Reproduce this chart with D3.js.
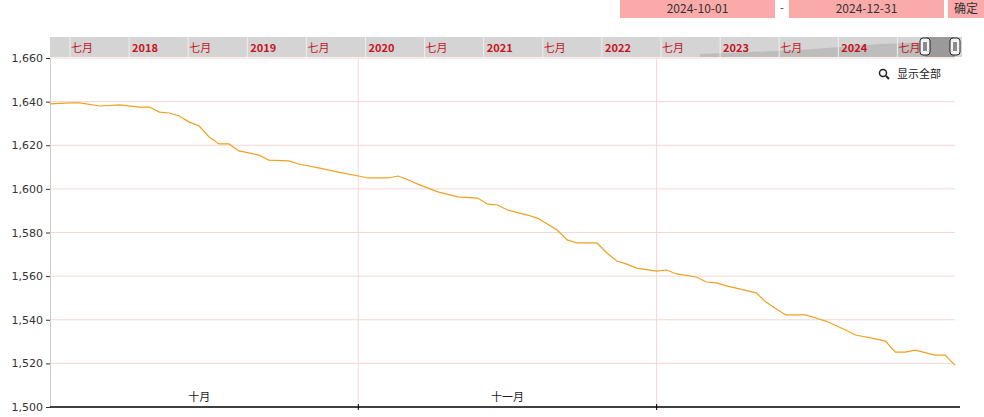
<!DOCTYPE html>
<html><head><meta charset="utf-8">
<script src="https://cdn.jsdelivr.net/npm/d3@7"></script>
<style>body{margin:0;background:#fff;font-family:"Noto Sans CJK SC","DejaVu Sans",sans-serif}</style>
</head><body><div id="chart"></div>
<script>
// price series
const dates = ['2024-10-01','2024-10-03','2024-10-04','2024-10-06','2024-10-08','2024-10-10','2024-10-11','2024-10-12','2024-10-13','2024-10-14','2024-10-15','2024-10-16','2024-10-17','2024-10-18','2024-10-19','2024-10-20','2024-10-22','2024-10-23','2024-10-25','2024-10-26','2024-10-28','2024-10-30',
 '2024-11-01','2024-11-02','2024-11-04','2024-11-05','2024-11-06','2024-11-07','2024-11-09','2024-11-11','2024-11-13','2024-11-14','2024-11-15','2024-11-16','2024-11-18','2024-11-19','2024-11-21','2024-11-22','2024-11-23','2024-11-25','2024-11-26','2024-11-27','2024-11-28','2024-11-29',
 '2024-12-01','2024-12-02','2024-12-03','2024-12-05','2024-12-06','2024-12-07','2024-12-08','2024-12-09','2024-12-11','2024-12-12','2024-12-13','2024-12-14','2024-12-16','2024-12-17','2024-12-18','2024-12-20','2024-12-21','2024-12-23','2024-12-24','2024-12-25','2024-12-26','2024-12-27','2024-12-29','2024-12-30','2024-12-31'];
const values = [1639,1639.4,1639.4,1638,1638.5,1637.5,1637.5,1635.2,1634.8,1633.4,1630.6,1628.8,1623.8,1620.6,1620.6,1617.4,1615.5,1613.2,1612.8,1611.4,1609.6,1607.7,
 1605.9,1605,1605,1605.9,1604.2,1602.2,1598.6,1596.3,1595.8,1593,1592.6,1590.3,1588,1586.6,1581.1,1576.6,1575.2,1575.2,1570.6,1566.9,1565.5,1563.7,
 1562.3,1562.8,1561,1559.6,1557.3,1556.9,1555.5,1554.5,1552.3,1548.1,1545,1542.2,1542.2,1540.8,1539.4,1535.3,1533,1531.2,1530.2,1525.2,1525.2,1526.1,1523.8,1523.8,1519.2];
const yTicks = [1500,1520,1540,1560,1580,1600,1620,1640,1660];
const monthLabels = ['十月','十一月'];
const navLabels = ['七月','2018','七月','2019','七月','2020','七月','2021','七月','2022','七月','2023','七月','2024','七月'];

const W = 984, H = 417;
const mLeft = 50, mRight = 955, mTop = 58, mBottom = 407;
const parse = d3.timeParse('%Y-%m-%d');
const data = dates.map((d, i) => ({date: parse(d), value: values[i]}));

const svg = d3.select('#chart').append('svg').attr('width', W).attr('height', H);

let x = d3.scaleTime().domain([parse('2024-10-01'), parse('2024-12-31')]).range([mLeft, mRight]);
let y = d3.scaleLinear().domain([1500, 1660]).range([mBottom, mTop]);

// range inputs at top
const boxes = [[620, 155, '2024-10-01'], [789, 155, '2024-12-31'], [948, 36, '确定']];
boxes.forEach(b => {
  svg.append('rect').attr('x', b[0]).attr('y', 0).attr('width', b[1]).attr('height', 18).attr('fill', '#fbaaaa');
  svg.append('text').attr('x', b[0] + b[1] / 2).attr('y', 13).attr('text-anchor', 'middle')
    .attr('font-size', 12).attr('fill', '#333').text(b[2]);
});
svg.append('text').attr('x', 782).attr('y', 12).attr('text-anchor', 'middle').attr('font-size', 11).attr('fill', '#333').text('-');

// grid
svg.append('g').selectAll('line').data(yTicks.slice(1)).join('line')
  .attr('x1', mLeft).attr('x2', mRight).attr('y1', d => y(d)).attr('y2', d => y(d))
  .attr('stroke', '#f6d6d6').attr('stroke-width', 1);
const months = [parse('2024-11-01'), parse('2024-12-01')];
svg.append('g').selectAll('line').data(months).join('line')
  .attr('x1', d => x(d)).attr('x2', d => x(d)).attr('y1', mTop).attr('y2', mBottom)
  .attr('stroke', '#f6d6d6');

// navigator bar
const nav = svg.append('g');
nav.append('rect').attr('x', mLeft).attr('y', 37).attr('width', 912).attr('height', 20).attr('fill', '#d4d4d4');
nav.append('path').attr('d', 'M700,57 L700,54 L800,50 L880,44 L930,42 L930,57 Z').attr('fill', '#bdbdbd');
nav.append('rect').attr('x', 925).attr('y', 37).attr('width', 30).attr('height', 20).attr('fill', '#9a9a9a');
const navStep = 59.1, navStart = 70;
navLabels.forEach((t, i) => {
  const cx = navStart + i * navStep;
  nav.append('line').attr('x1', cx).attr('x2', cx).attr('y1', 37).attr('y2', 57).attr('stroke', '#eee');
  nav.append('text').attr('x', cx + (t.length > 2 ? 16 : 12)).attr('y', 51.5).attr('text-anchor', 'middle')
    .attr('font-size', 11).attr('font-weight', t.length > 2 ? 'bold' : 'normal').attr('fill', '#c8141e').text(t);
});
[925, 955].forEach(hx => {
  nav.append('rect').attr('x', hx - 5).attr('y', 38).attr('width', 10).attr('height', 17).attr('rx', 3)
    .attr('fill', '#f4f4f4').attr('stroke', '#222');
  nav.append('line').attr('x1', hx - 1).attr('x2', hx - 1).attr('y1', 42).attr('y2', 51).attr('stroke', '#222');
  nav.append('line').attr('x1', hx + 1).attr('x2', hx + 1).attr('y1', 42).attr('y2', 51).attr('stroke', '#222');
});

// y axis
const yAxis = svg.append('g').attr('transform', `translate(${mLeft},0)`)
  .call(d3.axisLeft(y).tickValues(yTicks).tickFormat(d3.format(',')).tickSize(4));
yAxis.select('.domain').attr('stroke', '#ccc');
yAxis.selectAll('text').attr('font-size', 11).attr('fill', '#333').attr('font-family', 'DejaVu Sans');
yAxis.selectAll('line').attr('stroke', '#333');

// x axis
svg.append('line').attr('x1', mLeft).attr('x2', mRight + 5).attr('y1', mBottom).attr('y2', mBottom).attr('stroke', '#000').attr('stroke-width', 1.5);
svg.append('g').selectAll('line').data(months).join('line')
  .attr('x1', d => x(d)).attr('x2', d => x(d)).attr('y1', mBottom - 3).attr('y2', mBottom + 3).attr('stroke', '#000');
const monthMid = [parse('2024-10-16'), parse('2024-11-16')];
svg.append('g').selectAll('text').data(monthLabels).join('text')
  .attr('x', (d, i) => x(monthMid[i])).attr('y', 401).attr('text-anchor', 'middle')
  .attr('font-size', 11).attr('fill', '#222').text(d => d);

// line
svg.append('path').datum(data).attr('fill', 'none').attr('stroke', '#f0a020').attr('stroke-width', 1.2)
  .attr('d', d3.line().x(d => x(d.date)).y(d => y(d.value)));

// show all
svg.append('circle').attr('cx', 883).attr('cy', 73).attr('r', 3.5).attr('fill', 'none').attr('stroke', '#222').attr('stroke-width', 1.5);
svg.append('line').attr('x1', 886).attr('y1', 76).attr('x2', 889).attr('y2', 79).attr('stroke', '#222').attr('stroke-width', 2);
svg.append('text').attr('x', 897).attr('y', 78).attr('font-size', 11).attr('fill', '#222').text('显示全部');
</script></body></html>
